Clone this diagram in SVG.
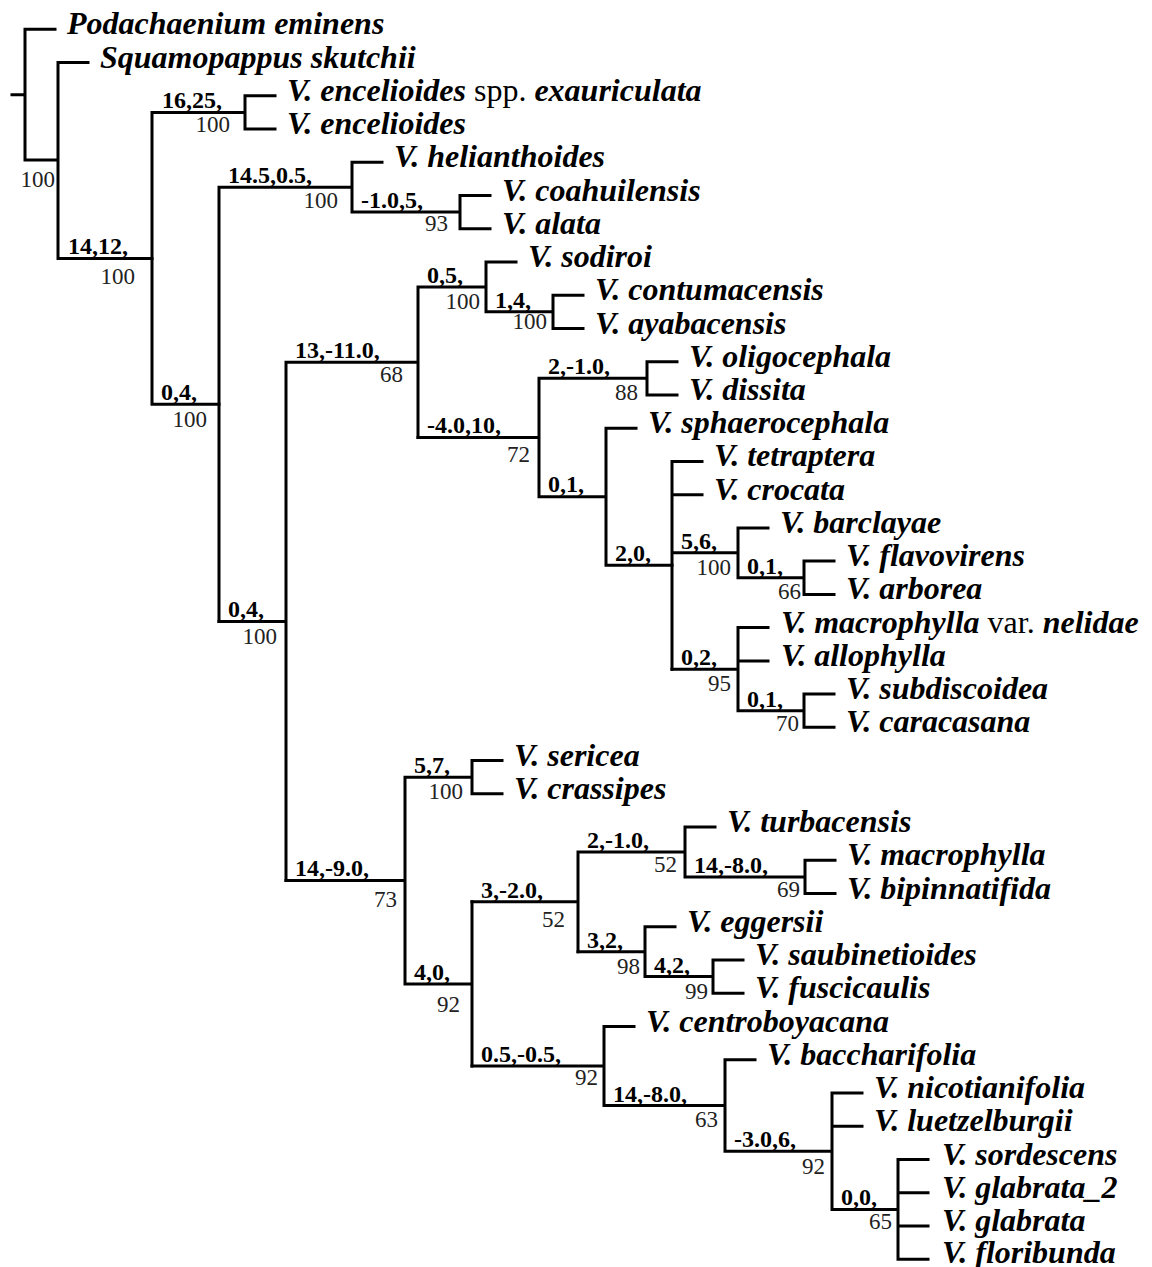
<svg xmlns="http://www.w3.org/2000/svg" width="1152" height="1267" viewBox="0 0 1152 1267">
<style>
.br{stroke:#000;stroke-width:3;fill:none;stroke-linecap:square}
.leaf{font-family:"Liberation Serif",serif;font-style:italic;font-weight:bold;font-size:32px;fill:#000}
.up{font-style:normal;font-weight:normal}
.bl{font-family:"Liberation Serif",serif;font-weight:bold;font-size:24px;fill:#000}
.bs{font-family:"Liberation Serif",serif;font-size:23px;text-anchor:end;fill:#222}
</style>
<rect width="1152" height="1267" fill="#fff"/>
<g id="connectors" class="br">
<path d="M12 94.7H25M25 29.3V160M25 29.3H55M25 160H58M58 62.5V258.4M58 62.5H88M58 258.4H152"/>
<path d="M152 112.4V404.3M152 112.4H245M245 95.8V129M245 95.8H275M245 129H275M152 404.3H219"/>
<path d="M219 187.2V621.4M219 187.2H352M352 162.3V212.1M352 162.3H382M352 212.1H460M460 195.5V228.7M460 195.5H490M460 228.7H490"/>
<path d="M219 621.4H286M286 362.2V880.5M286 362.2H418M418 286.9V437.5M418 286.9H486M486 262V311.8M486 262H516M486 311.8H553M553 295.2V328.5M553 295.2H583M553 328.5H583"/>
<path d="M418 437.5H539M539 378.3V496.7M539 378.3H647M647 361.7V394.9M647 361.7H677M647 394.9H677M539 496.7H606M606 428.2V565.3M606 428.2H636M606 565.3H672"/>
<path d="M672 461.4V669.2M672 461.4H702M672 494.7H702M672 552.8H738M738 527.9V577.7M738 527.9H768M738 577.7H804M804 561.1V594.4M804 561.1H834M804 594.4H834"/>
<path d="M672 669.2H738M738 627.6V710.7M738 627.6H768M738 660.9H768M738 710.7H804M804 694.1V727.3M804 694.1H834M804 727.3H834"/>
<path d="M286 880.5H405M405 777.2V983.9M405 777.2H472M472 760.6V793.8M472 760.6H502M472 793.8H502M405 983.9H472M472 901.8V1066"/>
<path d="M472 901.8H578M578 851.9V951.7M578 851.9H685M685 827.1V876.9M685 827.1H715M685 876.9H805M805 860.3V893.5M805 860.3H835M805 893.5H835"/>
<path d="M578 951.7H645M645 926.8V976.6M645 926.8H675M645 976.6H713M713 960V993.3M713 960H743M713 993.3H743"/>
<path d="M472 1066H604M604 1026.5V1105.5M604 1026.5H634M604 1105.5H725M725 1059.7V1151.2M725 1059.7H755M725 1151.2H832M832 1093V1209.4M832 1093H862M832 1126.2H862M832 1209.4H898M898 1159.5V1259.2M898 1159.5H928M898 1192.7H928M898 1225.9H928M898 1259.2H928"/>
</g>
<g id="leaf0"><text class="leaf" x="67" y="34.3">Podachaenium eminens</text></g>
<g id="leaf1"><text class="leaf" x="100" y="67.5">Squamopappus skutchii</text></g>
<g id="leaf2"><text class="leaf" x="287" y="100.8">V. encelioides <tspan class="up">spp.</tspan> exauriculata</text></g>
<g id="leaf3"><text class="leaf" x="287" y="134">V. encelioides</text></g>
<g id="leaf4"><text class="leaf" x="394" y="167.3">V. helianthoides</text></g>
<g id="leaf5"><text class="leaf" x="502" y="200.5">V. coahuilensis</text></g>
<g id="leaf6"><text class="leaf" x="502" y="233.7">V. alata</text></g>
<g id="leaf7"><text class="leaf" x="528" y="267">V. sodiroi</text></g>
<g id="leaf8"><text class="leaf" x="595" y="300.2">V. contumacensis</text></g>
<g id="leaf9"><text class="leaf" x="595" y="333.5">V. ayabacensis</text></g>
<g id="leaf10"><text class="leaf" x="689" y="366.7">V. oligocephala</text></g>
<g id="leaf11"><text class="leaf" x="689" y="399.9">V. dissita</text></g>
<g id="leaf12"><text class="leaf" x="648" y="433.2">V. sphaerocephala</text></g>
<g id="leaf13"><text class="leaf" x="714" y="466.4">V. tetraptera</text></g>
<g id="leaf14"><text class="leaf" x="714" y="499.7">V. crocata</text></g>
<g id="leaf15"><text class="leaf" x="780" y="532.9">V. barclayae</text></g>
<g id="leaf16"><text class="leaf" x="846" y="566.1">V. flavovirens</text></g>
<g id="leaf17"><text class="leaf" x="846" y="599.4">V. arborea</text></g>
<g id="leaf18"><text class="leaf" x="781" y="632.6">V. macrophylla <tspan class="up">var.</tspan> nelidae</text></g>
<g id="leaf19"><text class="leaf" x="781" y="665.9">V. allophylla</text></g>
<g id="leaf20"><text class="leaf" x="846" y="699.1">V. subdiscoidea</text></g>
<g id="leaf21"><text class="leaf" x="846" y="732.3">V. caracasana</text></g>
<g id="leaf22"><text class="leaf" x="514" y="765.6">V. sericea</text></g>
<g id="leaf23"><text class="leaf" x="514" y="798.8">V. crassipes</text></g>
<g id="leaf24"><text class="leaf" x="727" y="832.1">V. turbacensis</text></g>
<g id="leaf25"><text class="leaf" x="847" y="865.3">V. macrophylla</text></g>
<g id="leaf26"><text class="leaf" x="847" y="898.5">V. bipinnatifida</text></g>
<g id="leaf27"><text class="leaf" x="687" y="931.8">V. eggersii</text></g>
<g id="leaf28"><text class="leaf" x="755" y="965">V. saubinetioides</text></g>
<g id="leaf29"><text class="leaf" x="755" y="998.3">V. fuscicaulis</text></g>
<g id="leaf30"><text class="leaf" x="646" y="1031.5">V. centroboyacana</text></g>
<g id="leaf31"><text class="leaf" x="767" y="1064.7">V. baccharifolia</text></g>
<g id="leaf32"><text class="leaf" x="874" y="1098">V. nicotianifolia</text></g>
<g id="leaf33"><text class="leaf" x="874" y="1131.2">V. luetzelburgii</text></g>
<g id="leaf34"><text class="leaf" x="942" y="1164.5">V. sordescens</text></g>
<g id="leaf35"><text class="leaf" x="942" y="1197.7">V. glabrata_2</text></g>
<g id="leaf36"><text class="leaf" x="942" y="1230.9">V. glabrata</text></g>
<g id="leaf37"><text class="leaf" x="942" y="1263">V. floribunda</text></g>
<g id="nodeA"><text class="bs" x="55" y="187">100</text></g>
<g id="nodeB"><text class="bl" x="68" y="254">14,12,</text><text class="bs" x="135" y="284">100</text></g>
<g id="nodeEnc"><text class="bl" x="162" y="108">16,25,</text><text class="bs" x="230" y="132">100</text></g>
<g id="nodeC"><text class="bl" x="161" y="400">0,4,</text><text class="bs" x="207" y="427">100</text></g>
<g id="nodeD"><text class="bl" x="228" y="183">14.5,0.5,</text><text class="bs" x="338" y="208">100</text></g>
<g id="nodeE"><text class="bl" x="361" y="208">-1.0,5,</text><text class="bs" x="448" y="231">93</text></g>
<g id="nodeF"><text class="bl" x="228" y="617">0,4,</text><text class="bs" x="277" y="644">100</text></g>
<g id="nodeG"><text class="bl" x="295" y="358">13,-11.0,</text><text class="bs" x="403" y="382">68</text></g>
<g id="nodeH"><text class="bl" x="427" y="283">0,5,</text><text class="bs" x="480" y="309">100</text></g>
<g id="nodeI"><text class="bl" x="495" y="308">1,4,</text><text class="bs" x="547" y="329">100</text></g>
<g id="nodeJ"><text class="bl" x="427" y="433">-4.0,10,</text><text class="bs" x="530" y="462">72</text></g>
<g id="nodeK"><text class="bl" x="548" y="374">2,-1.0,</text><text class="bs" x="638" y="400">88</text></g>
<g id="nodeL"><text class="bl" x="548" y="492">0,1,</text></g>
<g id="nodeM"><text class="bl" x="615" y="561">2,0,</text></g>
<g id="nodeN"><text class="bl" x="681" y="549">5,6,</text><text class="bs" x="731" y="575">100</text></g>
<g id="nodeO"><text class="bl" x="747" y="574">0,1,</text><text class="bs" x="801" y="599">66</text></g>
<g id="nodeP"><text class="bl" x="681" y="665">0,2,</text><text class="bs" x="731" y="691">95</text></g>
<g id="nodeQ"><text class="bl" x="747" y="707">0,1,</text><text class="bs" x="799" y="731">70</text></g>
<g id="nodeX"><text class="bl" x="295" y="876">14,-9.0,</text><text class="bs" x="397" y="907">73</text></g>
<g id="nodeY"><text class="bl" x="414" y="773">5,7,</text><text class="bs" x="463" y="799">100</text></g>
<g id="nodeZ"><text class="bl" x="414" y="980">4,0,</text><text class="bs" x="460" y="1012">92</text></g>
<g id="nodeS"><text class="bl" x="481" y="898">3,-2.0,</text><text class="bs" x="565" y="927">52</text></g>
<g id="nodeT"><text class="bl" x="587" y="848">2,-1.0,</text><text class="bs" x="677" y="872">52</text></g>
<g id="nodeU"><text class="bl" x="694" y="873">14,-8.0,</text><text class="bs" x="800" y="897">69</text></g>
<g id="nodeV"><text class="bl" x="587" y="948">3,2,</text><text class="bs" x="640" y="974">98</text></g>
<g id="nodeW"><text class="bl" x="654" y="973">4,2,</text><text class="bs" x="708" y="999">99</text></g>
<g id="nodeAA"><text class="bl" x="481" y="1062">0.5,-0.5,</text><text class="bs" x="598" y="1085">92</text></g>
<g id="nodeAB"><text class="bl" x="613" y="1102">14,-8.0,</text><text class="bs" x="718" y="1127">63</text></g>
<g id="nodeAC"><text class="bl" x="734" y="1147">-3.0,6,</text><text class="bs" x="825" y="1174">92</text></g>
<g id="nodeAD"><text class="bl" x="841" y="1205">0,0,</text><text class="bs" x="892" y="1229">65</text></g>
</svg>
